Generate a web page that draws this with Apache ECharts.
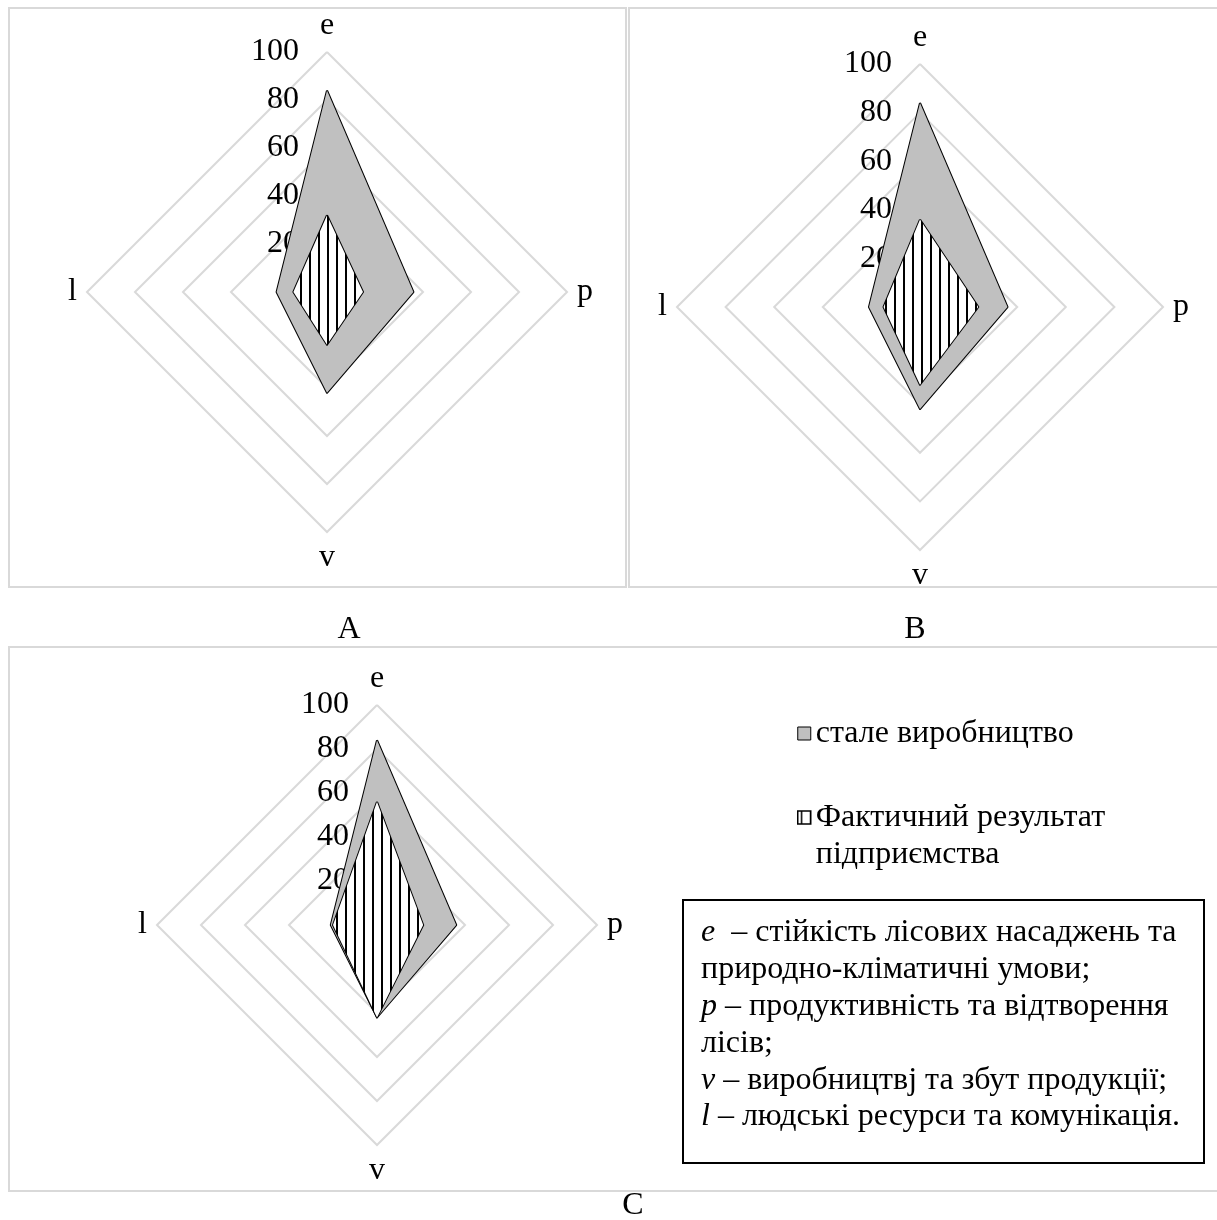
<!DOCTYPE html>
<html><head><meta charset="utf-8">
<script src="https://cdn.jsdelivr.net/npm/echarts@6/dist/echarts.min.js"></script>
<style>html,body{margin:0;padding:0;background:#fff}#c{width:1217px;height:1220px}</style>
</head><body><div id="c"></div>
<script>
// Axes in ECharts radar order (counter-clockwise from the top): e, l, v, p
const axes = ['e', 'l', 'v', 'p'];
const tickValues = [0, 20, 40, 60, 80, 100];
const seriesNames = ['стале виробництво', 'Фактичний результат підприємства'];
const panelLabels = ['A', 'B', 'C'];
// values in axes order: e, l, v, p
const stableA = [84, 21, 42, 36];
const actualA = [32, 14, 22, 15];
const stableB = [84, 21, 42, 36];
const actualB = [36, 15, 32, 24];
const stableC = [84, 21, 42, 36];
const actualC = [56, 20, 42, 21];
const noteLines = [
  ['e', '  – стійкість лісових насаджень та'],
  ['', 'природно-кліматичні умови;'],
  ['p', ' – продуктивність та відтворення'],
  ['', 'лісів;'],
  ['v', ' – виробництвј та збут продукції;'],
  ['l', ' – людські ресурси та комунікація.']
];

const FONT = 'Liberation Serif';
const FS = 32;

function makePattern(size) {
  const cv = document.createElement('canvas');
  cv.width = 9; cv.height = 9;
  const ctx = cv.getContext('2d');
  ctx.fillStyle = '#fff'; ctx.fillRect(0, 0, 9, 9);
  ctx.fillStyle = '#000'; ctx.fillRect(3, 0, size, 9);
  return { image: cv, repeat: 'repeat' };
}
const hatch = makePattern(2);

const chart = echarts.init(document.getElementById('c'), null, { renderer: 'canvas' });

function radarDef(center, radius) {
  return {
    center: center,
    radius: radius,
    shape: 'polygon',
    startAngle: 90,
    splitNumber: tickValues.length - 1,
    nameGap: 10,
    axisName: { color: '#000', fontFamily: FONT, fontSize: FS },
    axisLine: { show: false },
    axisTick: { show: false },
    splitArea: { show: false },
    splitLine: { lineStyle: { color: '#d9d9d9', width: 2 } },
    indicator: axes.map((a, i) => {
      const ind = { name: a, min: tickValues[0], max: tickValues[tickValues.length - 1] };
      if (i === 0) {
        ind.axisLabel = {
          show: true, showMinLabel: true, showMaxLabel: true,
          color: '#000', fontFamily: FONT, fontSize: FS, margin: 28
        };
      }
      return ind;
    })
  };
}

function radarSeries(idx, stable, actual) {
  return {
    type: 'radar',
    radarIndex: idx,
    symbol: 'none',
    silent: true,
    data: [
      { name: seriesNames[0], value: stable,
        lineStyle: { color: '#000', width: 2 },
        itemStyle: { color: '#c0c0c0', borderColor: '#000' },
        areaStyle: { color: '#c0c0c0', opacity: 1 } },
      { name: seriesNames[1], value: actual,
        lineStyle: { color: '#000', width: 2 },
        itemStyle: { color: hatch, borderColor: '#000' },
        areaStyle: { color: hatch, opacity: 1 } }
    ]
  };
}

const textStyleBase = { fontFamily: FONT, fontSize: FS, fill: '#000' };

const graphics = [
  { type: 'rect', shape: { x: 9, y: 8, width: 617, height: 579 }, style: { fill: 'none', stroke: '#d9d9d9', lineWidth: 2 }, z: 1 },
  { type: 'rect', shape: { x: 629, y: 8, width: 600, height: 579 }, style: { fill: 'none', stroke: '#d9d9d9', lineWidth: 2 }, z: 1 },
  { type: 'rect', shape: { x: 629, y: 588, width: 600, height: 24 }, style: { fill: '#fff' }, z: 50 },
  { type: 'rect', shape: { x: 9, y: 647, width: 1220, height: 544 }, style: { fill: 'none', stroke: '#d9d9d9', lineWidth: 2 }, z: 1 },
  { type: 'text', x: 349, y: 630, z: 60, style: Object.assign({ text: panelLabels[0], align: 'center', verticalAlign: 'middle' }, textStyleBase) },
  { type: 'text', x: 915, y: 630, z: 60, style: Object.assign({ text: panelLabels[1], align: 'center', verticalAlign: 'middle' }, textStyleBase) },
  { type: 'text', x: 633, y: 1206, style: Object.assign({ text: panelLabels[2], align: 'center', verticalAlign: 'middle' }, textStyleBase) },
  { type: 'rect', shape: { x: 683, y: 900, width: 521, height: 263 }, style: { fill: '#fff', stroke: '#000', lineWidth: 2 }, z: 5 }
];
noteLines.forEach((ln, i) => {
  graphics.push({
    type: 'text', x: 701, y: 933 + i * 36.8, z: 6,
    style: {
      text: (ln[0] ? '{i|' + ln[0] + '}' : '') + '{n|' + ln[1] + '}',
      verticalAlign: 'middle', align: 'left',
      rich: {
        i: { fontFamily: FONT, fontSize: FS, fontStyle: 'italic', fill: '#000' },
        n: { fontFamily: FONT, fontSize: FS, fill: '#000' }
      }
    }
  });
});

chart.setOption({
  backgroundColor: '#fff',
  animation: false,
  radar: [
    radarDef([327, 292], 240),
    radarDef([920, 307], 243),
    radarDef([377, 925], 220)
  ],
  legend: {
    orient: 'vertical',
    left: 797, top: 715,
    itemWidth: 13, itemHeight: 13,
    itemGap: 10,
    padding: 0,
    selectedMode: false,
    textStyle: { fontFamily: FONT, fontSize: FS, color: '#000', lineHeight: 37 },
    formatter: function (name) {
      return name === seriesNames[1] ? '\nФактичний результат\nпідприємства' : name;
    },
    data: [
      { name: seriesNames[0], icon: 'rect', itemStyle: { color: '#c0c0c0', borderColor: '#000', borderWidth: 1 } },
      { name: seriesNames[1], icon: 'rect', itemStyle: { color: makePattern(1.5), borderColor: '#000', borderWidth: 1.5 } }
    ]
  },
  series: [
    radarSeries(0, stableA, actualA),
    radarSeries(1, stableB, actualB),
    radarSeries(2, stableC, actualC)
  ],
  graphic: graphics
});
</script>
</body></html>
